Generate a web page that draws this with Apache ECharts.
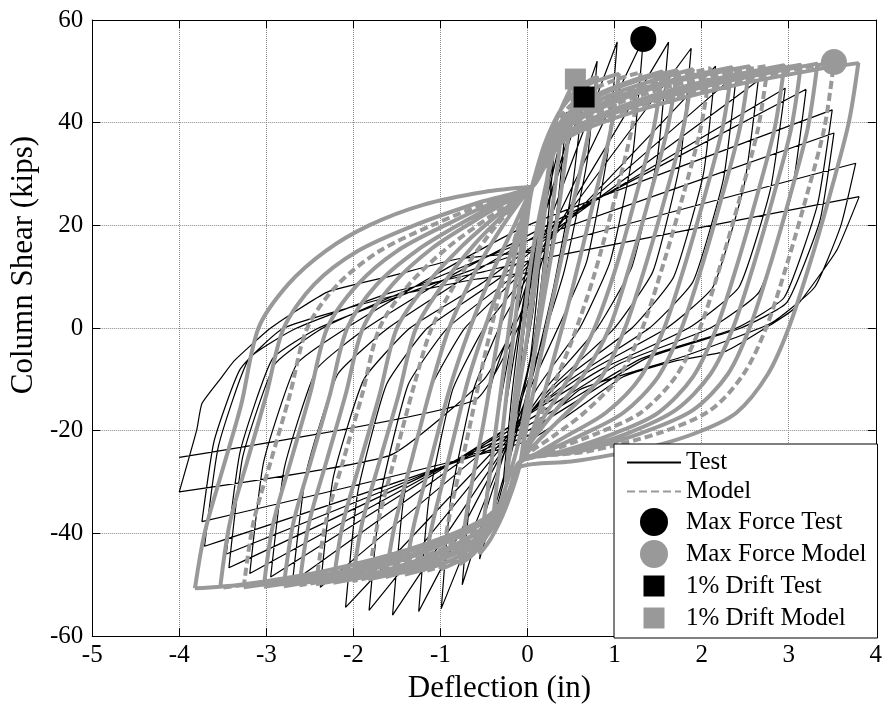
<!DOCTYPE html>
<html>
<head>
<meta charset="utf-8">
<script src="https://cdn.jsdelivr.net/npm/echarts@6/dist/echarts.min.js"></script>
<style>html,body{margin:0;padding:0;background:#fff}#chart{width:885px;height:709px}</style>
</head>
<body>
<div id="chart"></div>
<script>
// ---- Axis ranges / ticks ----
const xRange = [-5, 4];
const yRange = [-60, 60];
const xStep = 1;
const yStep = 20;

// ---- Legend labels ----
const legendNames = ['Test', 'Model', 'Max Force Test', 'Max Force Model', '1% Drift Test', '1% Drift Model'];

// ---- Marker points [deflection, shear] ----
const maxForceTest = [[1.33, 56.3]];
const maxForceModel = [[3.52, 51.8]];
const driftTest = [[0.65, 45.0]];
const driftModel = [[0.55, 48.5]];

// ---- Test hysteresis loops (each loop starts where the previous ended) ----
const testLoops = [
  [[0,0],[0.12,14],[0.07,4],[-0.02,-5],[-0.1,-12]],
  [[-0.1,-12],[-0.05,-2],[0.05,10],[0.2,24],[0.13,10],[0.03,-6],[-0.18,-20]],
  [[-0.18,-20],[-0.1,-6],[0.02,8],[0.3,33],[0.2,15],[0.06,-4],[-0.28,-30]],
  [[-0.28,-30],[-0.18,-13],[-0.05,4],[0.1,16],[0.45,42],[0.34,23],[0.15,4],[0,-12],[-0.4,-38]],
  [[-0.4,-38],[-0.28,-19],[-0.1,0],[0.05,14],[0.65,47],[0.52,28],[0.3,8],[0.05,-10],[-0.55,-45]],
  [[-0.55,-45],[-0.43,-26],[-0.2,-4],[0,12],[0.8,52],[0.68,32],[0.42,11],[0.1,-6],[-0.05,-13],[-0.75,-50]],
  [[-0.75,-50],[-0.64,-30],[-0.4,-10],[-0.1,4],[0.1,14],[1.03,55.7],[0.92,34],[0.68,13],[0.35,0],[0.05,-11],[-0.99,-54.6]],
  [[-0.99,-54.6],[-0.88,-33],[-0.62,-12],[-0.3,1],[0.1,13],[1.33,56.3],[1.21,34],[0.95,13],[0.6,0],[0.1,-12],[-1.25,-55.2]],
  [[-1.25,-55.2],[-1.13,-33],[-0.86,-12],[-0.5,0],[0.1,13],[1.62,55.7],[1.49,33],[1.2,12],[0.8,0],[0.15,-13],[-1.55,-55.9]],
  [[-1.55,-55.9],[-1.42,-33],[-1.12,-12],[-0.72,0],[0,12],[1.88,54.5],[1.75,32],[1.44,11],[1,0],[0.25,-12],[-1.82,-55]],
  [[-1.82,-55],[-1.68,-32],[-1.37,-11],[-0.92,0],[-0.1,11],[2.16,51],[2.02,30],[1.68,10],[1.2,0],[0.35,-11],[-2.09,-54.4]],
  [[-2.09,-54.4],[-1.95,-32],[-1.62,-11],[-1.15,0],[-0.3,10],[2.4,49.5],[2.25,29],[1.9,9],[1.4,0],[0.5,-10],[-2.38,-50.5]],
  [[-2.38,-50.5],[-2.23,-29],[-1.88,-10],[-1.35,0],[-0.5,9],[2.65,48.2],[2.49,28],[2.13,8],[1.6,0],[0.65,-9],[-2.7,-49.5]],
  [[-2.7,-49.5],[-2.54,-28],[-2.18,-9],[-1.6,0],[-0.7,10],[0,17],[2.96,46.7],[2.79,27],[2.43,8],[1.85,0],[0.85,-8],[0,-17],[-2.95,-48.5]],
  [[-2.95,-48.5],[-2.79,-27],[-2.42,-8],[-1.85,0],[-0.9,10],[0,18],[3.2,46.5],[3.03,26],[2.66,7],[2.1,0],[1.05,-7],[0,-18],[-3.19,-47.8]],
  [[-3.19,-47.8],[-3.03,-26],[-2.65,-7],[-2.08,0],[-1.1,10],[0,20],[3.5,42.5],[3.33,24],[2.95,6],[2.4,0],[1.3,-6],[0,-19],[-3.43,-46.7]],
  [[-3.43,-46.7],[-3.27,-25],[-2.9,-7],[-2.35,0],[-1.3,8],[0,17],[3.52,38],[3.36,21],[2.98,5],[2.45,0],[1.35,-6],[0,-20],[-3.46,-44]],
  [[-3.46,-44],[-3.3,-24],[-2.93,-6],[-2.4,0],[-1.35,7],[0,15],[3.77,32.1],[3.6,20],[3.3,8],[2.8,1],[1.8,-5.5],[0.6,-12],[0,-21],[-3.71,-42.5]],
  [[-3.71,-42.5],[-3.55,-23],[-3.2,-6],[-2.65,0],[-1.55,7],[-0.5,11],[0,13],[3.81,25.6],[3.56,15.4],[3.33,9.7],[3.07,3.9],[2.8,0.7],[2.28,-4.5],[1.7,-6.4],[1.1,-9.5],[0,-22],[-3.74,-37.7]],
  [[-3.74,-37.7],[-3.6,-22],[-3.3,-8],[-2.8,0],[-1.6,6],[-0.6,9.5],[0.1,11],[-0.1,2],[-0.5,-10],[-1.58,-24.8],[-4,-31.9]],
  [[-4,-31.9],[-3.8,-19.9],[-3.74,-14.7],[-3.51,-9.5],[-3.37,-6.4],[-2.95,0],[-2.3,7],[-1.55,10.2],[-0.79,13.5],[0.2,15],[0,4],[-0.6,-14],[-4,-25.2]]
];

// ---- Model hysteresis loops ----
const modelLoops = [
  [[0,0],[0.1,13],[0.2,26],[0.25,32],[0.18,20],[0.05,4],[-0.1,-12],[-0.2,-24],[-0.25,-30]],
  [[-0.25,-30],[-0.18,-18],[-0.05,0],[0.05,14],[0.2,27],[0.3,34],[0.4,40],[0.32,28],[0.2,12],[0.05,-8],[-0.1,-22],[-0.25,-31],[-0.4,-38]],
  [[-0.4,-38],[-0.3,-22],[-0.18,-4],[-0.05,14],[0.05,27],[0.25,37],[0.42,44],[0.55,48.5],[0.46,36],[0.33,20],[0.15,2],[0,-14],[-0.08,-26],[-0.25,-35],[-0.42,-41],[-0.55,-44]],
  [[-0.55,-44],[-0.46,-32],[-0.32,-14],[-0.18,4],[-0.05,18],[0.05,27],[0.2,36],[0.4,43],[0.6,47],[0.8,49],[0.7,38],[0.52,24],[0.32,8],[0.12,-8],[-0.02,-20],[-0.08,-26],[-0.22,-33],[-0.45,-40],[-0.62,-44],[-0.78,-46]],
  [[-0.78,-46],[-0.68,-34],[-0.5,-18],[-0.32,0],[-0.15,14],[0,24],[0.05,27.5],[0.2,36],[0.4,43],[0.65,47],[1.05,49.5],[0.95,38],[0.75,24],[0.52,8],[0.3,-6],[0.1,-18],[-0.08,-26],[-0.22,-33],[-0.45,-40],[-0.7,-44.5],[-1,-47]],
  [[-1,-47],[-0.89,-36],[-0.7,-22],[-0.5,-6],[-0.3,8],[-0.1,20],[0.05,27.5],[0.2,35],[0.42,42],[0.7,46],[1,48.3],[1.3,49.8],[1.2,39],[1,25],[0.76,10],[0.52,-2],[0.28,-12],[0.05,-21],[-0.08,-26],[-0.22,-33],[-0.45,-40],[-0.8,-45],[-1.2,-47.5]],
  [[-1.2,-47.5],[-1.09,-38],[-0.9,-25],[-0.68,-10],[-0.45,2],[-0.22,13],[-0.05,22],[0.05,27.5],[0.2,35],[0.45,41.5],[0.8,45.5],[1.2,48.2],[1.55,50],[1.45,39],[1.25,26],[1.02,12],[0.77,0],[0.5,-9],[0.2,-17],[0,-23],[-0.08,-26],[-0.22,-33],[-0.47,-40],[-0.85,-45],[-1.41,-48]],
  [[-1.41,-48],[-1.3,-38],[-1.1,-25],[-0.88,-11],[-0.66,0],[-0.4,11],[-0.15,20],[0.05,27.5],[0.2,34.5],[0.45,41],[0.85,45.5],[1.3,48.4],[1.72,50.2],[1.61,39],[1.41,26],[1.19,13],[0.94,0],[0.65,-9],[0.3,-16.5],[0.05,-22],[-0.08,-26],[-0.22,-33],[-0.48,-39.5],[-0.9,-44.5],[-1.63,-48.5]],
  [[-1.63,-48.5],[-1.52,-38],[-1.32,-25],[-1.1,-11],[-0.9,0],[-0.6,11],[-0.3,19.5],[-0.05,25.5],[0.05,27.5],[0.2,34],[0.45,40.5],[0.9,45],[1.4,48],[1.9,50.4],[1.79,39],[1.59,26],[1.37,13],[1.12,0],[0.85,-9.5],[0.45,-16.5],[0.15,-21.5],[-0.08,-26],[-0.22,-33],[-0.48,-39.5],[-0.95,-44.5],[-1.4,-47.2],[-1.83,-49]],
  [[-1.83,-49],[-1.72,-38],[-1.52,-25],[-1.3,-11],[-1.1,0],[-0.78,10],[-0.45,18],[-0.15,24],[0.05,27.5],[0.2,33.5],[0.45,40],[0.9,44.5],[1.5,48],[2.1,50.6],[1.99,39],[1.79,26],[1.57,13],[1.32,0],[1.05,-9.5],[0.65,-16.5],[0.3,-21],[0,-24.5],[-0.08,-26],[-0.22,-33],[-0.48,-39],[-0.95,-44],[-1.5,-47.3],[-2.01,-49.3]],
  [[-2.01,-49.3],[-1.9,-38],[-1.7,-26],[-1.48,-13],[-1.28,0],[-0.95,9],[-0.6,16.5],[-0.25,22.5],[0.05,27.5],[0.2,33.5],[0.45,39.5],[0.95,44.5],[1.6,48],[2.35,50.8],[2.24,39],[2.04,26],[1.82,13],[1.57,0],[1.3,-9.5],[0.9,-16.5],[0.45,-21],[0.1,-24.5],[-0.08,-26],[-0.22,-32.5],[-0.48,-38.5],[-1,-44],[-1.6,-47.5],[-2.23,-49.6]],
  [[-2.23,-49.6],[-2.12,-38],[-1.92,-26],[-1.7,-13],[-1.5,0],[-1.16,8.5],[-0.75,16],[-0.35,22],[-0.05,26],[0.05,27.5],[0.2,33],[0.45,39],[1,44],[1.7,48],[2.55,51],[2.44,39],[2.24,26],[2.02,13],[1.77,0],[1.5,-9.5],[1.1,-16.5],[0.6,-21],[0.15,-24.5],[-0.08,-26],[-0.22,-32.5],[-0.48,-38.5],[-1,-43.5],[-1.7,-47.5],[-2.43,-49.9]],
  [[-2.43,-49.9],[-2.32,-38],[-2.12,-26],[-1.9,-13],[-1.7,0],[-1.36,8.5],[-0.93,15.5],[-0.45,21.5],[-0.1,25.5],[0.05,27.5],[0.2,33],[0.45,38.5],[1,43.5],[1.8,47.8],[2.76,51.1],[2.65,39],[2.45,26],[2.23,13],[1.98,0],[1.7,-9.5],[1.3,-16.5],[0.8,-20.5],[0.25,-24],[-0.08,-26],[-0.22,-32.5],[-0.48,-38],[-1.05,-43.5],[-1.8,-47.5],[-2.62,-50.1]],
  [[-2.62,-50.1],[-2.51,-38],[-2.31,-26],[-2.09,-13],[-1.89,0],[-1.55,8.5],[-1.1,15.5],[-0.6,21],[-0.15,25.5],[0.05,27.5],[0.2,32.5],[0.45,38],[1.05,43],[1.9,47.5],[2.95,51.2],[2.84,39],[2.64,26],[2.42,13],[2.17,0],[1.9,-9.5],[1.5,-16.5],[1,-20.5],[0.4,-24],[-0.08,-26],[-0.22,-32],[-0.48,-37.5],[-1.1,-43],[-1.9,-47.5],[-2.8,-50.3]],
  [[-2.8,-50.3],[-2.69,-38],[-2.49,-26],[-2.27,-13],[-2.07,0],[-1.73,8.5],[-1.28,15],[-0.75,20.5],[-0.25,25],[0.05,27.5],[0.2,32.5],[0.45,37.8],[1.1,43],[2,47.5],[3.14,51.3],[3.03,39],[2.83,26],[2.61,13],[2.36,0],[2.1,-9],[1.7,-16],[1.15,-20.5],[0.5,-24],[-0.08,-26],[-0.22,-32],[-0.48,-37.5],[-1.15,-43],[-2,-47.5],[-3.03,-50.4]],
  [[-3.03,-50.4],[-2.92,-38],[-2.72,-26],[-2.5,-13],[-2.3,0],[-1.95,8.5],[-1.5,15],[-0.95,20],[-0.35,24.8],[0.05,27.5],[0.2,32],[0.45,37.5],[1.1,42.5],[2.1,47.3],[3.33,51.5],[3.22,39],[3.02,26],[2.8,13],[2.55,0],[2.3,-9],[1.9,-16],[1.3,-20.5],[0.6,-24],[-0.08,-26],[-0.22,-32],[-0.48,-37],[-1.2,-42.5],[-2.1,-47.3],[-3.26,-50.5]],
  [[-3.26,-50.5],[-3.15,-38],[-2.95,-26],[-2.73,-13],[-2.53,0],[-2.18,8.5],[-1.7,15],[-1.1,20],[-0.45,24.5],[0.05,27.5],[0.2,32],[0.45,37.5],[1.15,42.5],[2.2,47.3],[3.52,51.8],[3.41,39],[3.21,26],[2.99,13],[2.74,0],[2.48,-9],[2.1,-16],[1.5,-20.5],[0.7,-24],[-0.08,-26],[-0.22,-32],[-0.48,-37],[-1.2,-42.5],[-2.2,-47.3],[-3.53,-50.6]],
  [[-3.53,-50.6],[-3.42,-38],[-3.22,-26],[-3,-13],[-2.8,0],[-2.45,8.5],[-1.95,15],[-1.3,20],[-0.55,24.5],[0.05,27.5],[0.2,31.5],[0.45,37],[1.2,42],[2.3,47],[3.3,50.3],[3.8,51.6],[3.69,40],[3.49,27],[3.27,14],[3,0],[2.76,-9],[2.4,-16.5],[2,-20],[1.5,-22.8],[1,-24.6],[0.5,-26],[-0.08,-27],[-0.22,-32],[-0.48,-37],[-1.25,-42.5],[-2.3,-47.2],[-3.3,-50],[-3.82,-50.7]],
  [[-3.82,-50.7],[-3.71,-40],[-3.51,-28],[-3.29,-15],[-3.09,0],[-2.75,8.5],[-2.32,15],[-1.82,20],[-1.2,24],[-0.5,26.5],[0.05,27.5]]
];
// loops of the model that show as dashed in the picture
const modelDashedLoops = [5, 9, 12, 16];

// ---- build series data from the arrays ----
const testData = [].concat(...testLoops);
const modelDashed = [];
const modelSolid = [];
modelLoops.forEach((loop, i) => {
  const target = modelDashedLoops.includes(i) ? modelDashed : modelSolid;
  loop.forEach(p => target.push(p));
  target.push([null, null]);
});

const FONT = 'Liberation Serif';
const GRAY = '#999999';
const chart = echarts.init(document.getElementById('chart'), null, {renderer: 'canvas'});

const baseAxis = {
  type: 'value',
  axisLine: {show: true, onZero: false, lineStyle: {color: '#000', width: 1}},
  axisTick: {show: true, inside: true, length: 8, lineStyle: {color: '#000', width: 1}},
};
const squareIcon = 'path://M0,0M28,28M3.5,3.5h21v21h-21z';

const option = {
  animation: false,
  backgroundColor: '#fff',
  grid: {left: 89, right: 3, top: 20, bottom: 63, containLabel: false},
  xAxis: [
    Object.assign({}, baseAxis, {
      min: xRange[0], max: xRange[1], interval: xStep, position: 'bottom',
      name: 'Deflection (in)', nameLocation: 'middle', nameGap: 30,
      nameTextStyle: {fontFamily: FONT, fontSize: 31, color: '#000', padding: [0, 0, 0, 31]},
      axisLabel: {fontFamily: FONT, fontSize: 25, color: '#000', margin: 7},
      splitLine: {show: true, lineStyle: {color: '#8a8a8a', type: 'dotted', width: 1}}
    }),
    Object.assign({}, baseAxis, {
      min: xRange[0], max: xRange[1], interval: xStep, position: 'top',
      axisLabel: {show: false}, splitLine: {show: false}
    })
  ],
  yAxis: [
    Object.assign({}, baseAxis, {
      min: yRange[0], max: yRange[1], interval: yStep, position: 'left',
      name: 'Column Shear (kips)', nameLocation: 'middle', nameGap: 46,
      nameTextStyle: {fontFamily: FONT, fontSize: 31, color: '#000', padding: [0, 0, 0, 126]},
      axisLabel: {fontFamily: FONT, fontSize: 25, color: '#000', margin: 9},
      splitLine: {show: true, lineStyle: {color: '#8a8a8a', type: 'dotted', width: 1}}
    }),
    Object.assign({}, baseAxis, {
      min: yRange[0], max: yRange[1], interval: yStep, position: 'right',
      axisLabel: {show: false}, splitLine: {show: false}
    })
  ],
  legend: {
    orient: 'vertical', left: 614, top: 444,
    backgroundColor: '#fff', borderColor: '#000', borderWidth: 1, borderRadius: 0,
    padding: [6, 11, 6, 12], itemWidth: 54, itemHeight: 28, itemGap: 4,
    selectedMode: false,
    textStyle: {fontFamily: FONT, fontSize: 25, color: '#000'},
    data: [
      {name: legendNames[0], itemStyle: {opacity: 0}},
      {name: legendNames[1], itemStyle: {opacity: 0}},
      {name: legendNames[2], icon: 'circle'},
      {name: legendNames[3], icon: 'circle'},
      {name: legendNames[4], icon: squareIcon},
      {name: legendNames[5], icon: squareIcon}
    ]
  },
  series: [
    {
      name: legendNames[1], type: 'line', data: modelDashed, symbol: 'none', smooth: 0.3,
      lineStyle: {color: GRAY, width: 4, type: [8, 4]}, itemStyle: {color: GRAY},
      z: 3, silent: true, connectNulls: false
    },
    {
      name: legendNames[0], type: 'line', data: testData, symbol: 'none', smooth: 0.15,
      lineStyle: {color: '#000', width: 1.2}, itemStyle: {color: '#000'},
      z: 2, silent: true
    },
    {
      name: legendNames[1], type: 'line', data: modelSolid, symbol: 'none', smooth: 0.3,
      lineStyle: {color: GRAY, width: 4}, itemStyle: {color: GRAY},
      z: 3, silent: true, connectNulls: false
    },
    {
      name: legendNames[5], type: 'scatter', data: driftModel, symbol: 'rect', symbolSize: 21,
      itemStyle: {color: GRAY, opacity: 1}, z: 5, silent: true
    },
    {
      name: legendNames[4], type: 'scatter', data: driftTest, symbol: 'rect', symbolSize: 21,
      itemStyle: {color: '#000', opacity: 1}, z: 6, silent: true
    },
    {
      name: legendNames[2], type: 'scatter', data: maxForceTest, symbol: 'circle', symbolSize: 26,
      itemStyle: {color: '#000', opacity: 1}, z: 6, silent: true
    },
    {
      name: legendNames[3], type: 'scatter', data: maxForceModel, symbol: 'circle', symbolSize: 26,
      itemStyle: {color: GRAY, opacity: 1}, z: 6, silent: true
    }
  ]
};
chart.setOption(option);
</script>
</body>
</html>
